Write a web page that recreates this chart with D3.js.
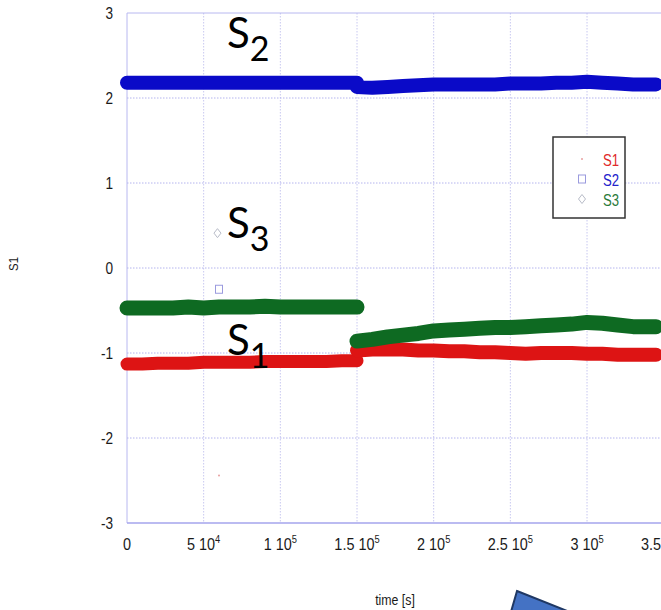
<!DOCTYPE html>
<html>
<head>
<meta charset="utf-8">
<script src="https://cdn.jsdelivr.net/npm/d3@7"></script>
<style>
  html, body { margin: 0; padding: 0; background: #fff; }
  svg { display: block; }
  .axis-text { font-family: "Liberation Sans", Arial, sans-serif; }
  .callout { font-family: Lato, "Open Sans", "Noto Sans", sans-serif; }
</style>
</head>
<body>
<svg id="chart" width="661" height="610"></svg>
<script>
// ---- data ----
const timeA = [0, 10000, 20000, 30000, 40000, 50000, 60000, 70000, 80000, 90000,
               100000, 110000, 120000, 130000, 140000, 150000];
const timeB = [150000, 160000, 170000, 180000, 190000, 200000, 210000, 220000, 230000, 240000,
               250000, 260000, 270000, 280000, 290000, 300000, 310000, 320000, 330000, 340000, 345000];

const s1A = [-1.13, -1.13, -1.12, -1.12, -1.12, -1.11, -1.11, -1.11, -1.11, -1.10,
             -1.10, -1.10, -1.10, -1.10, -1.09, -1.09];
const s1B = [-0.97, -0.96, -0.96, -0.96, -0.97, -0.97, -0.98, -0.98, -0.99, -0.99,
             -1.00, -1.01, -1.00, -1.00, -1.00, -1.01, -1.01, -1.02, -1.02, -1.02, -1.02];

const s2A = [2.18, 2.18, 2.18, 2.18, 2.18, 2.18, 2.18, 2.18, 2.18, 2.18,
             2.18, 2.18, 2.18, 2.18, 2.18, 2.18];
const s2B = [2.13, 2.12, 2.13, 2.14, 2.15, 2.16, 2.16, 2.16, 2.16, 2.16,
             2.17, 2.17, 2.17, 2.18, 2.18, 2.19, 2.18, 2.17, 2.16, 2.16, 2.16];

const s3A = [-0.47, -0.47, -0.47, -0.47, -0.46, -0.47, -0.46, -0.46, -0.46, -0.45,
             -0.46, -0.46, -0.46, -0.46, -0.46, -0.46];
const s3B = [-0.86, -0.84, -0.81, -0.79, -0.77, -0.74, -0.73, -0.72, -0.71, -0.70,
             -0.70, -0.69, -0.68, -0.67, -0.66, -0.64, -0.65, -0.67, -0.69, -0.69, -0.69];

// isolated samples (S1, S2, S3)
const strayTimes  = [60000, 60000, 59000];
const strayValues = [-2.44, -0.25, 0.41];

const seriesNames  = ["S1", "S2", "S3"];
const seriesColors = ["#dd1414", "#0a0ac8", "#0e6a22"];
const legendColors = ["#e02a2a", "#2222cc", "#2a7a3a"];

const xTicks = [0, 50000, 100000, 150000, 200000, 250000, 300000, 350000];
const xTickBase = ["0", "5 10", "1 10", "1.5 10", "2 10", "2.5 10", "3 10", "3.5 10"];
const xTickExp  = ["", "4", "5", "5", "5", "5", "5", "5"];
const yTicks = [3, 2, 1, 0, -1, -2, -3];
const yTickLabels = ["3", "2", "1", "0", "-1", "-2", "-3"];

// ---- layout ----
const svg = d3.select("#chart");
const x = d3.scaleLinear().domain([0, 350000]).range([127, 663.7]);
const y = d3.scaleLinear().domain([-3, 3]).range([523, 13]);

// condensed text: regular face squeezed horizontally around its anchor
function narrowText(parent, px, py, sx) {
  return parent.append("g").attr("transform", `translate(${px},${py}) scale(${sx},1)`)
    .append("text").attr("class", "axis-text").attr("x", 0).attr("y", 0);
}

// grid
const grid = svg.append("g");
grid.selectAll("line.vg").data(xTicks.slice(1)).join("line")
  .attr("x1", d => x(d)).attr("x2", d => x(d))
  .attr("y1", y(3)).attr("y2", y(-3))
  .attr("stroke", "#c8c8f0").attr("stroke-width", 1).attr("stroke-dasharray", "1.5,1.5");
grid.selectAll("line.hg").data(yTicks.filter(d => d > -3 && d < 3)).join("line")
  .attr("x1", x(0)).attr("x2", 661)
  .attr("y1", d => y(d)).attr("y2", d => y(d))
  .attr("stroke", "#b4b4ee").attr("stroke-width", 1).attr("stroke-dasharray", "1.5,1.5");

// frame
svg.append("line").attr("x1", x(0)).attr("x2", 661).attr("y1", y(3)).attr("y2", y(3))
  .attr("stroke", "#b8b8f0").attr("stroke-width", 1);
svg.append("line").attr("x1", x(0)).attr("x2", x(0)).attr("y1", y(3)).attr("y2", y(-3))
  .attr("stroke", "#b8b8f0").attr("stroke-width", 1);
svg.append("line").attr("x1", x(0)).attr("x2", 661).attr("y1", y(-3)).attr("y2", y(-3))
  .attr("stroke", "#a4a4ec").attr("stroke-width", 1.5);

// ---- series bands ----
const line = d3.line().x(d => x(d[0])).y(d => y(d[1]));
const zip = (t, v) => t.map((ti, i) => [ti, v[i]]);

const bands = [
  { pts: zip(timeA, s1A), color: seriesColors[0], w: 13 },
  { pts: zip(timeB, s1B), color: seriesColors[0], w: 14 },
  { pts: zip(timeA.concat(timeB), s2A.concat(s2B)), color: seriesColors[1], w: 14 },
  { pts: zip(timeA, s3A), color: seriesColors[2], w: 15 },
  { pts: zip(timeB, s3B), color: seriesColors[2], w: 15 }
];
svg.append("g").selectAll("path").data(bands).join("path")
  .attr("d", d => line(d.pts))
  .attr("fill", "none")
  .attr("stroke", d => d.color)
  .attr("stroke-width", d => d.w)
  .attr("stroke-linecap", "round")
  .attr("stroke-linejoin", "round");

// ---- marker glyphs ----
function glyph(g, i, cx, cy) {
  if (i === 0) {
    g.append("circle").attr("cx", cx).attr("cy", cy).attr("r", 1)
      .attr("fill", "#e8a0a0");
  } else if (i === 1) {
    g.append("rect").attr("x", cx - 3.5).attr("y", cy - 4).attr("width", 7).attr("height", 8)
      .attr("fill", "none").attr("stroke", "#9a9ade").attr("stroke-width", 1);
  } else {
    g.append("path").attr("d", `M${cx},${cy - 4.5}L${cx + 3.5},${cy}L${cx},${cy + 4.5}L${cx - 3.5},${cy}Z`)
      .attr("fill", "none").attr("stroke", "#b8bcc8").attr("stroke-width", 1);
  }
}
const strays = svg.append("g");
strayTimes.forEach((t, i) => glyph(strays, i, x(t), y(strayValues[i])));

// ---- axes labels ----
const xLab = svg.append("g");
xTicks.forEach((t, i) => {
  const tx = narrowText(xLab, x(t), 550, 0.85)
    .attr("text-anchor", "middle").attr("font-size", 17).attr("fill", "#1a1a1a");
  tx.append("tspan").text(xTickBase[i]);
  if (xTickExp[i]) {
    tx.append("tspan").attr("font-size", 11).attr("dy", -7).text(xTickExp[i]);
  }
});
const yLab = svg.append("g");
yTicks.forEach((t, i) => {
  narrowText(yLab, 113, y(t), 0.85)
    .attr("dy", "0.35em").attr("text-anchor", "end")
    .attr("font-size", 16).attr("fill", "#1a1a1a").text(yTickLabels[i]);
});

svg.append("g").attr("transform", "translate(18,264) rotate(-90) scale(0.88,1)")
  .append("text").attr("class", "axis-text")
  .attr("text-anchor", "middle").attr("font-size", 13).attr("fill", "#1a1a1a")
  .text("S1");
narrowText(svg, 395, 605, 0.88)
  .attr("text-anchor", "middle").attr("font-size", 14).attr("fill", "#1a1a1a")
  .text("time [s]");

// ---- legend ----
const lg = svg.append("g");
lg.append("rect").attr("x", 553).attr("y", 137).attr("width", 72).attr("height", 81)
  .attr("fill", "#fff").attr("stroke", "#333").attr("stroke-width", 1.5);
const legendY = [160, 180, 200];
seriesNames.forEach((n, i) => {
  glyph(lg, i, 582, legendY[i] - 1);
  narrowText(lg, 603, legendY[i], 0.82)
    .attr("dy", "0.35em").attr("font-size", 16).attr("fill", legendColors[i]).text(n);
});

// ---- series callouts ----
const callouts = [
  { main: "S", sub: "2", x: 227, y: 48 },
  { main: "S", sub: "3", x: 227, y: 238 },
  { main: "S", sub: "1", x: 227, y: 355 }
];
callouts.forEach(c => {
  const t = svg.append("text").attr("class", "callout")
    .attr("x", c.x).attr("y", c.y).attr("font-size", 42).attr("fill", "#000");
  t.append("tspan").text(c.main);
  t.append("tspan").attr("font-size", 34).attr("dy", 13).text(c.sub);
});

// ---- block arrow (partly off the bottom edge) ----
svg.append("path")
  .attr("d", "M517,591 L640,640 L500,650 Z")
  .attr("fill", "#4472c4").attr("stroke", "#1f3864").attr("stroke-width", 2)
  .attr("stroke-linejoin", "miter");
</script>
</body>
</html>
